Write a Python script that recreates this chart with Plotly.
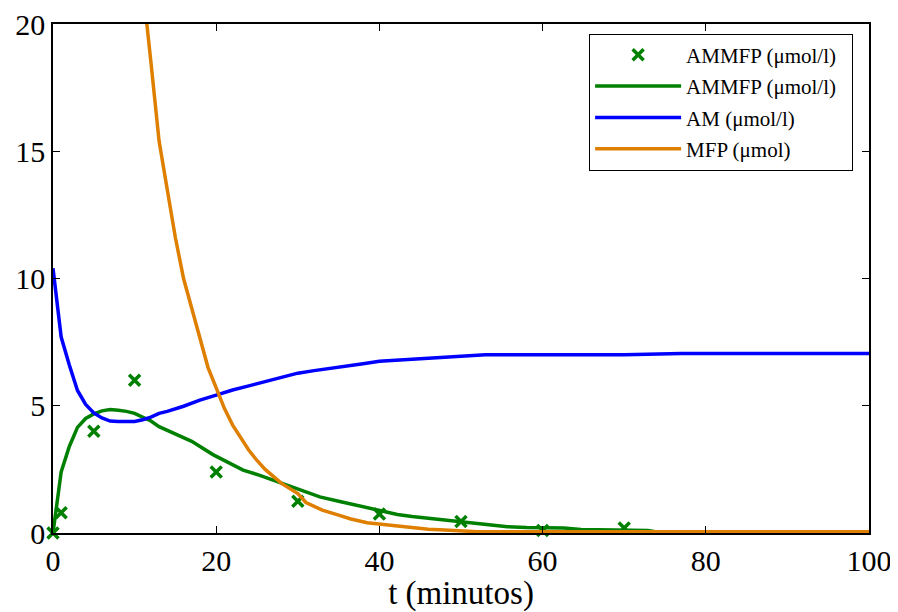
import plotly.graph_objects as go

# measured points (markers)
t_meas = [0, 1, 5, 10, 20, 30, 40, 50, 60, 70]
ammfp_meas = [0, 0.8, 4.0, 6.0, 2.4, 1.25, 0.75, 0.45, 0.1, 0.2]

# model curve AMMFP
t_ammfp = [0, 1, 2, 3, 4, 5, 6, 7, 8, 9, 10, 12, 13, 15, 17, 19.6, 21, 23.3, 25, 27, 28, 30.3, 32.7, 35, 37, 38.9,
           40, 42.2, 44, 46.2, 48, 50.8, 53, 55.7, 58, 62.6, 64.7, 68, 72.9, 74, 80, 90, 100]
ammfp_model = [0, 2.4, 3.4, 4.15, 4.5, 4.68, 4.8, 4.85, 4.82, 4.78, 4.7, 4.4, 4.18, 3.9, 3.6, 3.08, 2.85, 2.47, 2.3, 2.08,
               1.95, 1.7, 1.42, 1.25, 1.1, 0.97, 0.9, 0.73, 0.65, 0.57, 0.5, 0.4, 0.33, 0.25, 0.22, 0.2, 0.14, 0.12, 0.1, 0.04,
               0.03, 0.03, 0.03]

# AM
t_am = [0, 1, 2, 3, 4, 5, 6, 7, 8, 9, 10, 11, 12, 13, 14, 16, 18, 20, 22, 24, 26, 28, 30, 32, 35, 38, 40, 45, 50, 53, 60, 70, 77, 80, 90, 100]
am = [10.4, 7.7, 6.6, 5.6, 5.05, 4.72, 4.52, 4.4, 4.38, 4.38, 4.38, 4.45, 4.55, 4.7, 4.78, 4.98, 5.22, 5.42, 5.62, 5.78, 5.95, 6.1,
      6.28, 6.38, 6.5, 6.65, 6.75, 6.85, 6.95, 7.0, 7.0, 7.0, 7.05, 7.05, 7.05, 7.05]

# MFP
t_mfp = [10, 11, 12, 13, 14, 15, 16, 17, 18, 19, 20, 21, 22, 23, 24, 25, 26, 28, 30, 31, 33, 35, 36.5, 38.5, 40, 43.4, 46, 48, 51, 52, 60, 80, 100]
mfp = [26, 21.5, 18.5, 15.4, 13.5, 11.6, 10.0, 8.8, 7.6, 6.5, 5.7, 4.9, 4.25, 3.75, 3.25, 2.85, 2.5, 1.95, 1.55, 1.2, 0.9, 0.7, 0.55, 0.4,
       0.35, 0.21, 0.15, 0.12, 0.09, 0.05, 0.05, 0.05, 0.05]

# legend labels
names = ["AMMFP (μmol/l)", "AMMFP (μmol/l)", "AM (μmol/l)", "MFP (μmol)"]

GREEN = "#008000"
BLUE = "#0000FF"
ORANGE = "#DF7F00"
FONT = "Liberation Serif"
PAD = "\u00a0\u00a0"

fig = go.Figure()
fig.add_trace(go.Scatter(x=t_meas, y=ammfp_meas, mode="markers", name=names[0] + PAD, legendgroup="a",
                         marker=dict(symbol="x-thin", size=11, color=GREEN, line=dict(color=GREEN, width=3.5)),
                         cliponaxis=False))
fig.add_trace(go.Scatter(x=t_ammfp, y=ammfp_model, mode="lines", name=names[1] + PAD, legendgroup="b",
                         line=dict(color=GREEN, width=3.5)))
fig.add_trace(go.Scatter(x=t_am, y=am, mode="lines", name=names[2], legendgroup="c",
                         line=dict(color=BLUE, width=3.5)))
fig.add_trace(go.Scatter(x=t_mfp, y=mfp, mode="lines", name=names[3], legendgroup="d",
                         line=dict(color=ORANGE, width=3.5)))

axis_common = dict(showline=True, linecolor="black", linewidth=1.5, mirror="ticks", ticks="inside",
                   ticklen=7, tickcolor="black", showgrid=False, zeroline=False, automargin=False,
                   ticklabeloverflow="allow",
                   tickfont=dict(family=FONT, size=30, color="black"))

fig.update_layout(
    width=890, height=604,
    margin=dict(l=45, r=29, t=16, b=79),
    plot_bgcolor="white", paper_bgcolor="white",
    font=dict(family=FONT, color="black"),
    showlegend=True,
    legend=dict(x=0.657, y=0.981, xanchor="left", yanchor="top", bgcolor="white",
                bordercolor="black", borderwidth=1, font=dict(family=FONT, size=21, color="black"),
                itemwidth=86, tracegroupgap=1),
    xaxis=dict(range=[0, 100], tickvals=[0, 20, 40, 60, 80, 100],
               title=dict(text="t (minutos)", font=dict(family=FONT, size=33, color="black"), standoff=4),
               **axis_common),
    yaxis=dict(range=[0, 20], tickvals=[0, 5, 10, 15, 20], **axis_common),
)

fig.write_html("out.html")
